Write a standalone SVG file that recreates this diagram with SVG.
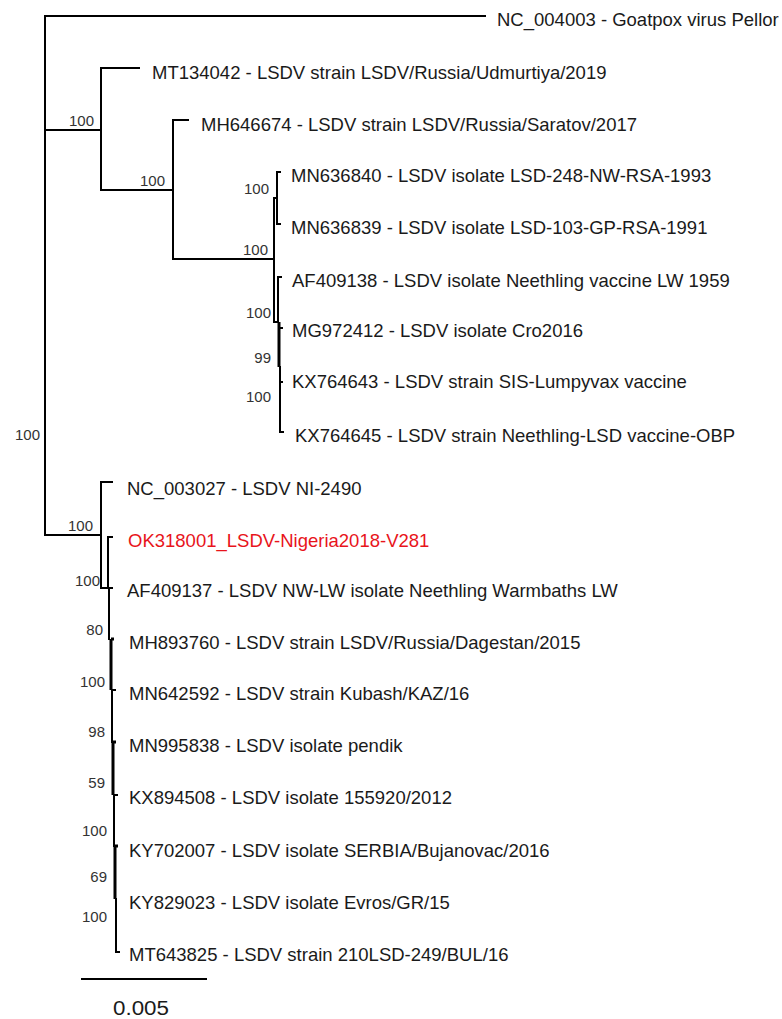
<svg xmlns="http://www.w3.org/2000/svg" width="782" height="1019" viewBox="0 0 782 1019">
<style>
.br{fill:none;stroke:#000;stroke-width:2;stroke-linecap:square}
.th{fill:none;stroke:#000;stroke-width:3}
.lab{font-family:"Liberation Sans",Arial,sans-serif;font-size:18.5px;fill:#1a1a1a}
.bs{font-family:"Liberation Sans",Arial,sans-serif;font-size:15px;fill:#333;text-anchor:end}
.red{fill:#e8141b}
</style>
<rect width="782" height="1019" fill="#fff"/>
<g id="connectors">
<path class="br" d="M45,16V535M45,16H485M45,130H101M101,68V190M101,68H139M101,190H173M173,120V259M173,120H188M173,259H274"/>
<path class="br" d="M274,198V322M274,198H277M277,172V224M277,172H280M277,224H280M274,322H278M278,277V322M278,277H281"/>
<path class="th" d="M279,322V367"/>
<path class="br" d="M280,367V432M279,328H282M280,382H282M280,432H283"/>
<path class="br" d="M45,535H101M101,482V588M101,482H112M101,588H109M108,537V588M108,537H112"/>
<path class="br" d="M109,588V639M109,588H112M112,690V742M112,690H115M114,795V846M114,795H117M116,899V952M116,952H119"/>
<path class="th" d="M111,639V690M111,639H114M113,742V795M113,742H116M115,846V899M115,846H118"/>
<path class="br" d="M82,979H206"/>
</g>
<g id="n-goatpox"><text class="lab" x="497" y="26">NC_004003 - Goatpox virus Pellor</text></g>
<g id="n-mt134042"><text class="lab" x="152" y="79">MT134042 - LSDV strain LSDV/Russia/Udmurtiya/2019</text></g>
<g id="n-mh646674"><text class="lab" x="201" y="131">MH646674 - LSDV strain LSDV/Russia/Saratov/2017</text></g>
<g id="n-mn636840"><text class="lab" x="291" y="182">MN636840 - LSDV isolate LSD-248-NW-RSA-1993</text></g>
<g id="n-mn636839"><text class="lab" x="291" y="234">MN636839 - LSDV isolate LSD-103-GP-RSA-1991</text></g>
<g id="n-af409138"><text class="lab" x="292" y="287">AF409138 - LSDV isolate Neethling vaccine LW 1959</text></g>
<g id="n-mg972412"><text class="lab" x="292" y="337">MG972412 - LSDV isolate Cro2016</text></g>
<g id="n-kx764643"><text class="lab" x="292" y="388">KX764643 - LSDV strain SIS-Lumpyvax vaccine</text></g>
<g id="n-kx764645"><text class="lab" x="295" y="442">KX764645 - LSDV strain Neethling-LSD vaccine-OBP</text></g>
<g id="n-nc003027"><text class="lab" x="127" y="495">NC_003027 - LSDV NI-2490</text></g>
<g id="n-ok318001"><text class="lab red" x="128" y="547">OK318001_LSDV-Nigeria2018-V281</text></g>
<g id="n-af409137"><text class="lab" x="127" y="597">AF409137 - LSDV NW-LW isolate Neethling Warmbaths LW</text></g>
<g id="n-mh893760"><text class="lab" x="129" y="649">MH893760 - LSDV strain LSDV/Russia/Dagestan/2015</text></g>
<g id="n-mn642592"><text class="lab" x="129" y="700">MN642592 - LSDV strain Kubash/KAZ/16</text></g>
<g id="n-mn995838"><text class="lab" x="129" y="752">MN995838 - LSDV isolate pendik</text></g>
<g id="n-kx894508"><text class="lab" x="129" y="804">KX894508 - LSDV isolate 155920/2012</text></g>
<g id="n-ky702007"><text class="lab" x="129" y="857">KY702007 - LSDV isolate SERBIA/Bujanovac/2016</text></g>
<g id="n-ky829023"><text class="lab" x="129" y="909">KY829023 - LSDV isolate Evros/GR/15</text></g>
<g id="n-mt643825"><text class="lab" x="129" y="961">MT643825 - LSDV strain 210LSD-249/BUL/16</text></g>
<g id="bootstrap">
<text class="bs" x="94" y="126">100</text>
<text class="bs" x="165" y="186">100</text>
<text class="bs" x="269" y="194">100</text>
<text class="bs" x="268" y="255">100</text>
<text class="bs" x="271" y="318">100</text>
<text class="bs" x="271" y="363">99</text>
<text class="bs" x="271" y="402">100</text>
<text class="bs" x="40" y="440">100</text>
<text class="bs" x="93" y="531">100</text>
<text class="bs" x="100" y="586">100</text>
<text class="bs" x="103" y="635">80</text>
<text class="bs" x="105" y="687">100</text>
<text class="bs" x="105" y="737">98</text>
<text class="bs" x="105" y="788">59</text>
<text class="bs" x="107" y="836">100</text>
<text class="bs" x="107" y="882">69</text>
<text class="bs" x="107" y="922">100</text>
</g>
<g id="scale"><text x="113" y="1015" font-family="Liberation Sans, Arial, sans-serif" font-size="20" fill="#1a1a1a" textLength="56" lengthAdjust="spacingAndGlyphs">0.005</text></g>
</svg>
